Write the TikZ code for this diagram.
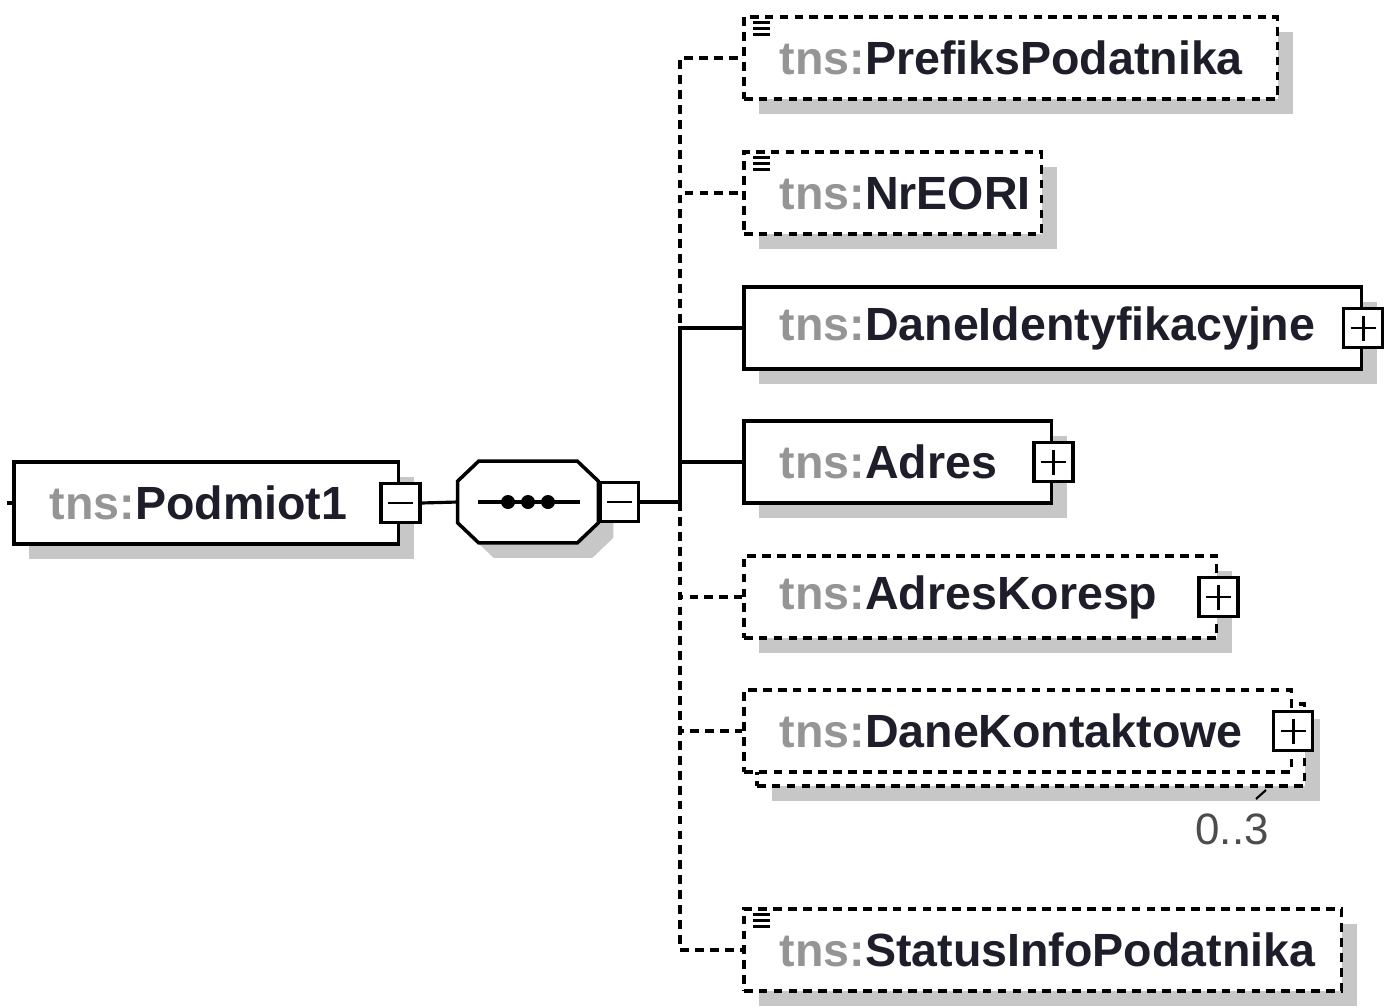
\documentclass[tikz,border=0pt]{standalone}
\usepackage{fontspec}
\setmainfont{Liberation Sans}
\usepackage{tikz}
\usetikzlibrary{shadows}

\definecolor{tnsgray}{HTML}{959595}
\definecolor{elemtext}{HTML}{1E1E2A}

\newcommand{\tns}[1]{\textcolor{tnsgray}{tns:}#1}
% little "documentation" mark in the upper left corner of an element
\newcommand{\infomark}[1]{%
  \foreach \k in {0,...,2}
    \draw[line width=1.5pt] ([xshift=0.22cm,yshift=-0.14cm-\k*0.12cm]#1.north west) -- ++(0.34cm,0);}
% outline of the sequence compositor
\newcommand{\octpath}[1]{([xshift=0.42cm]#1.north west) -- ([xshift=-0.42cm]#1.north east)
  -- ([yshift=-0.4cm]#1.north east) -- ([yshift=0.4cm]#1.south east)
  -- ([xshift=-0.42cm]#1.south east) -- ([xshift=0.42cm]#1.south west)
  -- ([yshift=0.4cm]#1.south west) -- ([yshift=-0.4cm]#1.north west) -- cycle}

\tikzset{
  elem/.style={draw, fill=white, line width=2pt, minimum height=1.64cm,
    inner xsep=0.72cm, inner ysep=0pt, align=left, anchor=west,
    font=\fontsize{26.5}{30}\selectfont\bfseries, text=elemtext},
  optelem/.style={elem, dash pattern=on 5pt off 3.5pt},
  boxshadow/.style={drop shadow={shadow xshift=0.3cm, shadow yshift=-0.3cm,
    fill=black!22, opacity=1}},
  conn/.style={line width=1.8pt},
  optconn/.style={conn, dash pattern=on 5pt off 3.5pt},
  toggle/.style={draw, fill=white, line width=1.8pt, minimum size=0.78cm, inner sep=0pt},
  minusbox/.style={toggle, path picture={
    \draw[line width=1.6pt] ([xshift=0.14cm]path picture bounding box.west)
      -- ([xshift=-0.14cm]path picture bounding box.east);}},
  plusbox/.style={toggle, path picture={
    \draw[line width=1.6pt] ([xshift=0.14cm]path picture bounding box.west)
      -- ([xshift=-0.14cm]path picture bounding box.east);
    \draw[line width=1.6pt] ([yshift=-0.14cm]path picture bounding box.north)
      -- ([yshift=0.14cm]path picture bounding box.south);}},
}

\begin{document}
\begin{tikzpicture}[x=0.02cm, y=-0.02cm]
    \useasboundingbox (0,0) rectangle (1384,1008);

    % Root element
    \node[elem, boxshadow, text width=6.26cm] (podm) at (12,503) {\tns{Podmiot1}};
    \node[minusbox] (podmmin) at (podm.east) {};
    \draw[conn] (podm.west) -- ++(-0.1cm,0);

    % Sequence compositor
    \node[inner sep=0pt, minimum width=2.8cm, minimum height=1.62cm] (seq) at (528,502) {};
    \fill[black!22, transform canvas={shift={(0.3cm,-0.3cm)}}] \octpath{seq};
    \draw[fill=white, line width=2pt] \octpath{seq};
    \draw[conn] ([xshift=-1cm]seq.center) -- ([xshift=1.04cm]seq.center);
    \foreach \d in {-0.4,0,0.4}
        \fill ([xshift=\d cm]seq.center) circle (0.14cm);
    \node[minusbox, anchor=west] (seqmin) at (seq.east) {};
    \draw[conn] (podmmin.east) -- (seq.west);

    \coordinate (trunk) at (680,502);
    \draw[conn] (seqmin.east) -- (trunk);

    % Child elements
    \node[optelem, boxshadow, text width=9.24cm] (pref) at (742,58) {\tns{PrefiksPodatnika}};
    \infomark{pref}
    \node[optelem, boxshadow, text width=4.52cm] (eori) at (742,193) {\tns{NrEORI}};
    \infomark{eori}
    \node[elem, boxshadow, text width=10.92cm] (dane) at (742,328) {\tns{DaneIdentyfikacyjne}};
    \node[plusbox] (daneplus) at (dane.east) {};
    \node[elem, boxshadow, text width=4.72cm] (adres) at (742,462) {\tns{Adres}};
    \node[plusbox] (adresplus) at (adres.east) {};
    \node[optelem, boxshadow, text width=8.02cm] (koresp) at (742,597) {\tns{AdresKoresp}};
    \node[plusbox] (koresplus) at (koresp.east) {};

    % repeated element (stacked boxes)
    \node[optelem, boxshadow, text width=9.52cm] (kontaktb) at (755,745) {};
    \node[optelem, text width=9.52cm] (kontakt) at (742,731) {\tns{DaneKontaktowe}};
    \node[plusbox] (kontaktplus) at (kontakt.east) {};
    \draw[line width=1.2pt] (1256,799) -- (1266,790);
    \node[font=\fontsize{25}{28}\selectfont, text=black!70] (kmult) at (1232,829) {0..3};

    \node[optelem, boxshadow, text width=10.52cm] (status) at (742,950) {\tns{StatusInfoPodatnika}};
    \infomark{status}

    % Connectors from the sequence
    \draw[optconn] (trunk) |- (pref.west);
    \draw[optconn] (trunk) |- (eori.west);
    \draw[optconn] (trunk) |- (koresp.west);
    \draw[optconn] (trunk) |- (kontakt.west);
    \draw[optconn] (trunk) |- (status.west);
    \draw[conn] (trunk) |- (dane.west);
    \draw[conn] (trunk) |- (adres.west);
\end{tikzpicture}
\end{document}
